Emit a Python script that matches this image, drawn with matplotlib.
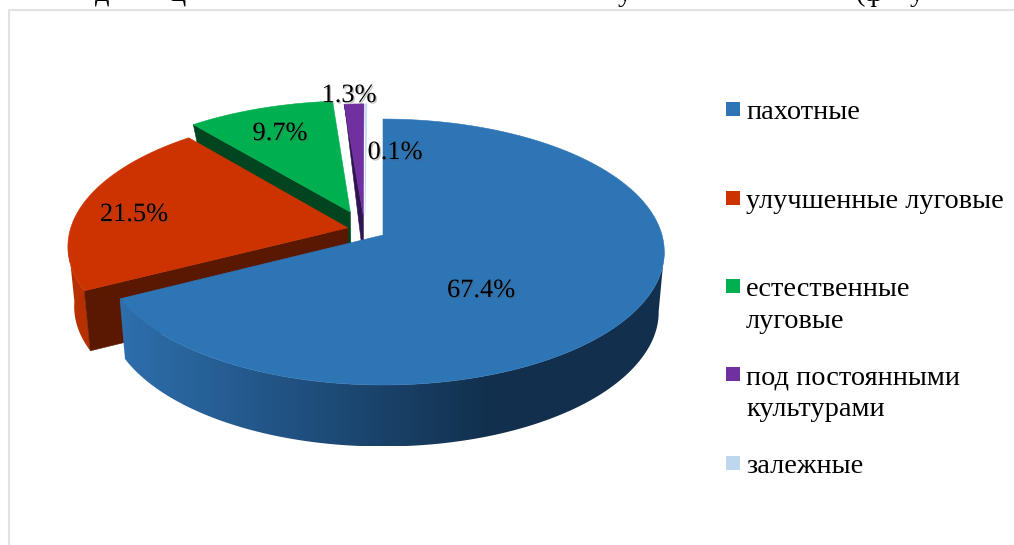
import numpy as np
import matplotlib
matplotlib.use("Agg")
import matplotlib.pyplot as plt
import matplotlib.patheffects as pe
from matplotlib.patches import Rectangle, Polygon
from matplotlib.colors import to_rgb

categories = ["пахотные", "улучшенные луговые", "естественные\nлуговые",
              "под постоянными\nкультурами", "залежные"]
values = [67.4, 21.5, 9.7, 1.3, 0.1]

top_colors = ["#2E75B6", "#CC3300", "#00B050", "#7030A0", "#BDD7EE"]
cut_colors = ["#1F4E79", "#5A1800", "#00451F", "#2E1450", "#BDD7EE"]
explode = [(0, 0), (-.127, .055), (-.12, .18), (-.072, .15), (-.066, .15)]
label_pos = [(481, 291), (134, 215), (280, 134), (349, 96), (395, 153)]
legend_y = [109, 198, 286, 374, 463]
legend_baseline = [119, 208, 296, 384, 473]
FONT = "Liberation Serif"
FS = 19
FS_LEGEND = 20.4

# projective view of the pie plane
CX, CY, A, C, K = 383, 235, 279, 130.8, 0.128
DV = [-1.2, -.45, .1, .2, .95, 1.15, 1.4]
DD = [62, 60, 60, 32, 18, 3, 3]
SHIFT = 0.02  # lower rim leans toward the centre


def proj(u, v):
    w = 1 + K * v
    return CX + A * u / w, CY - C * v / w


def rim(i, t):
    r = np.radians(t)
    return np.sin(r) + explode[i][0], np.cos(r) + explode[i][1]


def depth(v):
    return np.interp(v, DV, DD)


def low(x):
    return x + (CX - x) * SHIFT


edges = np.concatenate([[0], 360 * np.cumsum(values) / np.sum(values)])

fig = plt.figure(figsize=(10.14, 5.45), dpi=100, facecolor="white")
ax = fig.add_axes([0, 0, 1, 1])
ax.axis("off")
zo = [3]


def top(i):
    ts = np.linspace(edges[i], edges[i + 1], 150)
    u, v = rim(i, ts)
    x, y = proj(u, v)
    ax0, ay0 = proj(*explode[i])
    ax.fill(np.r_[ax0, x], np.r_[ay0, y], color=top_colors[i], lw=0.4, zorder=zo[0])
    zo[0] += 1


def cut(i, t):
    u, v = rim(i, np.array([t]))
    x, y = proj(u[0], v[0])
    u0, v0 = explode[i]
    x0, y0 = proj(u0, v0)
    ax.fill([x0, x, low(x), low(x0)], [y0, y, y + depth(v[0]), y0 + depth(v0)],
            color=cut_colors[i], lw=0.4, zorder=zo[0])
    zo[0] += 1


def wall(i, t0, t1, stops, cols):
    ts = np.linspace(t0, t1, 300)
    u, v = rim(i, ts)
    x, y = proj(u, v)
    yb = y + depth(v)
    xb = low(x)
    px = np.r_[x, xb[::-1]]
    py = np.r_[y, yb[::-1]]
    rgb = np.array([to_rgb(c) for c in cols])
    f = np.linspace(0, 1, 512)
    grad = np.stack([np.interp(f, stops, rgb[:, k]) for k in range(3)], axis=-1)[None, :, :]
    im = ax.imshow(grad, extent=(px.min(), px.max(), py.max(), py.min()),
                   aspect="auto", zorder=zo[0], interpolation="bilinear")
    im.set_clip_path(Polygon(np.c_[px, py], closed=True, transform=ax.transData))
    zo[0] += 1


cut(2, edges[2])
top(2)
cut(3, edges[3])
top(3)
top(4)
wall(1, edges[1], 264, [0, 1], ["#B83000", "#B83000"])
cut(1, edges[1])
top(1)
wall(0, edges[1], 97, [0, .35, .68, 1], ["#2E6FAD", "#1F4E7C", "#12304D", "#12304D"])
top(0)

# frame of the pasted chart
ax.plot([1014, 8.5, 8.5], [9.5, 9.5, 545], color="#E2E2E2", lw=1.5, zorder=1)

# cropped line of the caption above the chart
for s, x in [("д", 95), ("ц", 170), ("у", 618), ("(ф", 856), ("у", 910)]:
    ax.text(x, 1, s, fontfamily=FONT, fontsize=FS_LEGEND, color="black", va="baseline", ha="left", zorder=1)

shadow = [pe.withSimplePatchShadow(offset=(1, -1), shadow_rgbFace="#555555", alpha=0.35)]
for val, (x, y) in zip(values, label_pos):
    ax.text(x, y, f"{val:.1f}%", fontfamily=FONT, fontsize=FS, color="black",
            ha="center", va="center", zorder=50, path_effects=shadow)

for name, col, ys, yb in zip(categories, top_colors, legend_y, legend_baseline):
    ax.add_patch(Rectangle((726, ys - 7), 14, 14, facecolor=col, edgecolor="none", zorder=50))
    for n, line in enumerate(name.split("\n")):
        ax.text(746, yb + n * 32.5, line, fontfamily=FONT, fontsize=FS_LEGEND, color="black",
                ha="left", va="baseline", zorder=50)

ax.set_xlim(0, 1014)
ax.set_ylim(545, 0)
fig.savefig("out.png", dpi=100, facecolor="white")
